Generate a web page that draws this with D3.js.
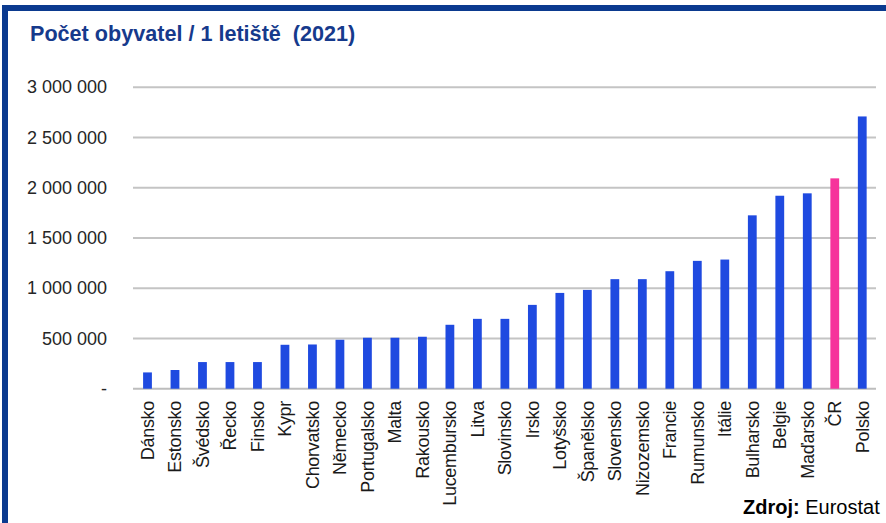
<!DOCTYPE html>
<html>
<head>
<meta charset="utf-8">
<script src="https://cdn.jsdelivr.net/npm/d3@7"></script>
<style>
  html, body { margin: 0; padding: 0; background: #fff; }
  svg { display: block; font-family: "Liberation Sans", Arial, sans-serif; }
</style>
</head>
<body>
<svg id="chart" width="886" height="523"></svg>
<script>
// Population per airport, EU countries, 2021
const countries = ["Dánsko", "Estonsko", "Švédsko", "Řecko", "Finsko", "Kypr", "Chorvatsko",
  "Německo", "Portugalsko", "Malta", "Rakousko", "Lucembursko", "Litva", "Slovinsko", "Irsko",
  "Lotyšsko", "Španělsko", "Slovensko", "Nizozemsko", "Francie", "Rumunsko", "Itálie",
  "Bulharsko", "Belgie", "Maďarsko", "ČR", "Polsko"];
const populationPerAirport = [162000, 186000, 265000, 265000, 265000, 437000, 440000,
  487000, 507000, 507000, 517000, 636000, 695000, 695000, 834000,
  953000, 983000, 1090000, 1090000, 1169000, 1272000, 1285000,
  1725000, 1920000, 1944000, 2093000, 2709000];
const highlighted = ["ČR"];
const yTicks = [0, 500000, 1000000, 1500000, 2000000, 2500000, 3000000];
const yTickLabels = ["-", "500 000", "1 000 000", "1 500 000", "2 000 000", "2 500 000", "3 000 000"];

const svg = d3.select("#chart");

// frame: dark blue bands along the top and left edge
svg.append("rect").attr("x", 2).attr("y", 5).attr("width", 884).attr("height", 6).attr("fill", "#0b3a8f");
svg.append("rect").attr("x", 2).attr("y", 5).attr("width", 6).attr("height", 518).attr("fill", "#0b3a8f");

svg.append("text")
  .attr("x", 30).attr("y", 41)
  .attr("font-size", 21.6).attr("font-weight", "bold")
  .attr("fill", "#163a8c")
  .attr("xml:space", "preserve")
  .text("Počet obyvatel / 1 letiště  (2021)");

const x = d3.scaleBand().domain(countries).range([133.75, 876]).paddingInner(0.68).paddingOuter(0.34);
const y = d3.scaleLinear().domain([0, 3000000]).range([388.7, 87.2]);

// gridlines
svg.append("g").selectAll("line").data(yTicks).join("line")
  .attr("x1", 133).attr("x2", 876)
  .attr("y1", d => y(d)).attr("y2", d => y(d))
  .attr("stroke", d => d === 0 ? "#bdbdbd" : "#c4c4c4")
  .attr("stroke-width", 2);

// y axis labels
const yAxis = d3.axisLeft(y).tickValues(yTicks)
  .tickFormat((d, i) => yTickLabels[i]).tickSize(0).tickPadding(0);
const gy = svg.append("g").attr("transform", "translate(107,0)").call(yAxis);
gy.select(".domain").remove();
gy.selectAll("text").attr("font-size", 18).attr("fill", "#262626")
  .attr("font-family", "'Liberation Sans', Arial, sans-serif");

// bars
svg.append("g").selectAll("rect").data(countries).join("rect")
  .attr("x", d => x(d))
  .attr("width", x.bandwidth())
  .attr("y", (d, i) => y(populationPerAirport[i]))
  .attr("height", (d, i) => y(0) - y(populationPerAirport[i]))
  .attr("fill", d => highlighted.includes(d) ? "#f6339b" : "#1f4ae0");

// category labels, rotated
svg.append("g").selectAll("text").data(countries).join("text")
  .attr("transform", d => `translate(${x(d) + x.bandwidth() / 2},401) rotate(-90)`)
  .attr("text-anchor", "end").attr("dy", "0.35em")
  .attr("font-size", 18).attr("fill", "#1a1a1a")
  .attr("letter-spacing", -0.3)
  .text(d => d);

// source note
const src = svg.append("text").attr("x", 743).attr("y", 514).attr("font-size", 20).attr("fill", "#000");
src.append("tspan").attr("font-weight", "bold").text("Zdroj:");
src.append("tspan").text(" Eurostat");
</script>
</body>
</html>
